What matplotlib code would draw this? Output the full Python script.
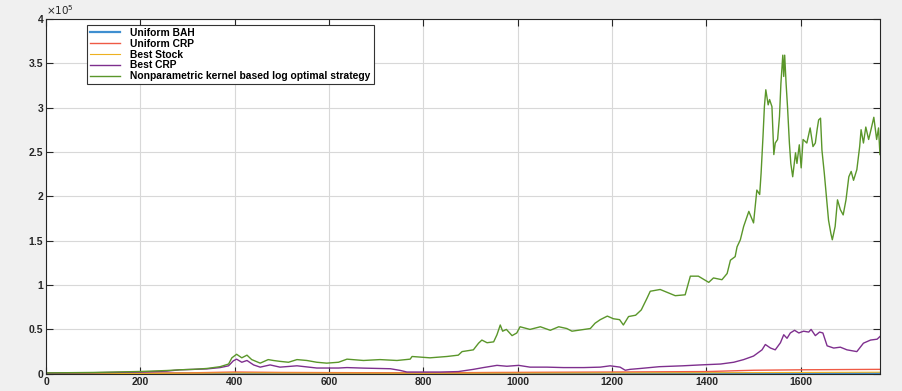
import matplotlib
matplotlib.use("Agg")
import matplotlib.pyplot as plt

# values are in units of 1e5
x_bah = [0, 200, 400, 600, 800, 1000, 1200, 1400, 1600, 1768]
uniform_bah = [0.001, 0.002, 0.003, 0.002, 0.002, 0.003, 0.003, 0.004, 0.005, 0.005]

x_ucrp = [0, 300, 400, 500, 800, 950, 1200, 1400, 1500, 1600, 1768]
uniform_crp = [0.004, 0.01, 0.02, 0.015, 0.01, 0.015, 0.02, 0.025, 0.04, 0.045, 0.05]

x_best = [0, 200, 400, 600, 800, 1000, 1200, 1400, 1600, 1768]
best_stock = [0.002, 0.004, 0.01, 0.008, 0.006, 0.008, 0.01, 0.012, 0.015, 0.018]

x_bcrp = [0, 100, 200, 256, 284, 341, 369, 387, 397, 404, 415, 426, 440, 454, 475,
          496, 532, 574, 620, 638, 673, 730, 751, 765, 800, 836, 874, 906, 927, 956,
          977, 1002, 1026, 1062, 1097, 1140, 1175, 1196, 1217, 1228, 1238, 1260, 1300,
          1350, 1387, 1430, 1458, 1479, 1500, 1518, 1525, 1536, 1546, 1557, 1564, 1571,
          1578, 1587, 1596, 1606, 1617, 1622, 1631, 1640, 1647, 1656, 1670, 1684, 1698,
          1719, 1733, 1748, 1762, 1768]
best_crp = [0.008, 0.012, 0.02, 0.03, 0.045, 0.055, 0.07, 0.09, 0.146, 0.165, 0.13, 0.15,
            0.10, 0.075, 0.10, 0.075, 0.09, 0.065, 0.065, 0.07, 0.064, 0.057, 0.038, 0.02,
            0.02, 0.02, 0.025, 0.05, 0.07, 0.095, 0.085, 0.095, 0.075, 0.075, 0.07, 0.07,
            0.075, 0.09, 0.075, 0.04, 0.05, 0.06, 0.08, 0.09, 0.10, 0.11, 0.13, 0.16, 0.20,
            0.27, 0.33, 0.29, 0.27, 0.35, 0.44, 0.40, 0.46, 0.49, 0.46, 0.48, 0.47, 0.50,
            0.43, 0.47, 0.46, 0.315, 0.29, 0.30, 0.27, 0.25, 0.345, 0.38, 0.39, 0.42]

x_kernel = [0, 50, 100, 150, 200, 256, 284, 312, 341, 369, 387, 394, 404, 415, 426, 436,
            454, 471, 482, 496, 514, 532, 553, 574, 595, 620, 638, 673, 708, 744, 772, 776,
            814, 850, 874, 882, 906, 917, 924, 935, 949, 956, 963, 968, 976, 988, 998, 1005,
            1026, 1048, 1069, 1087, 1104, 1115, 1140, 1154, 1164, 1175, 1190, 1203, 1216,
            1224, 1235, 1250, 1262, 1274, 1281, 1302, 1334, 1355, 1366, 1383, 1405, 1415,
            1433, 1444, 1451, 1461, 1465, 1472, 1479, 1490, 1500, 1507, 1513, 1516, 1520,
            1523, 1526, 1531, 1534, 1539, 1543, 1546, 1551, 1555, 1558, 1562, 1564, 1566,
            1569, 1572, 1576, 1579, 1583, 1589, 1592, 1597, 1601, 1605, 1613, 1620, 1626,
            1631, 1635, 1638, 1642, 1645, 1650, 1654, 1659, 1664, 1667, 1673, 1678, 1684,
            1690, 1696, 1702, 1707, 1712, 1719, 1725, 1728, 1733, 1738, 1744, 1749, 1755,
            1761, 1765, 1768]
kernel = [0.01, 0.012, 0.015, 0.02, 0.026, 0.037, 0.045, 0.05, 0.06, 0.08, 0.11, 0.18, 0.22,
          0.18, 0.21, 0.16, 0.12, 0.16, 0.15, 0.14, 0.13, 0.16, 0.15, 0.13, 0.12, 0.13, 0.165,
          0.15, 0.16, 0.15, 0.165, 0.195, 0.18, 0.195, 0.21, 0.25, 0.27, 0.345, 0.38, 0.35,
          0.36, 0.44, 0.55, 0.48, 0.50, 0.43, 0.46, 0.53, 0.50, 0.53, 0.49, 0.53, 0.51, 0.48,
          0.50, 0.51, 0.57, 0.61, 0.65, 0.62, 0.61, 0.55, 0.645, 0.66, 0.72, 0.85, 0.93, 0.95,
          0.88, 0.89, 1.10, 1.10, 1.03, 1.08, 1.06, 1.13, 1.28, 1.32, 1.43, 1.51, 1.66, 1.83,
          1.70, 2.07, 2.02, 2.26, 2.67, 3.01, 3.20, 3.03, 3.09, 3.01, 2.47, 2.60, 2.64, 2.90,
          3.27, 3.59, 3.35, 3.59, 3.27, 3.01, 2.60, 2.37, 2.22, 2.49, 2.37, 2.58, 2.32, 2.64,
          2.60, 2.77, 2.56, 2.60, 2.76, 2.86, 2.88, 2.52, 2.26, 2.02, 1.73, 1.58, 1.51, 1.66,
          1.96, 1.85, 1.79, 1.96, 2.22, 2.28, 2.18, 2.30, 2.56, 2.75, 2.60, 2.78, 2.64, 2.75,
          2.89, 2.64, 2.77, 2.47]

plt.rcParams['font.family'] = ['Liberation Sans', 'DejaVu Sans']

fig = plt.figure(figsize=(9.03, 3.91), dpi=100, facecolor='#f0f0f0')
ax = fig.add_axes([0.051, 0.044, 0.924, 0.908])
ax.set_facecolor('white')

ax.plot(x_bah, uniform_bah, color='#3f8fd0', lw=1.6, label='Uniform BAH')
ax.plot(x_ucrp, uniform_crp, color='#ef5a45', lw=1.0, label='Uniform CRP')
ax.plot(x_best, best_stock, color='#EDB120', lw=0.8, label='Best Stock')
ax.plot(x_bcrp, best_crp, color='#7E2F8E', lw=1.0, label='Best CRP')
ax.plot(x_kernel, kernel, color='#5a962a', lw=1.0,
        label='Nonparametric kernel based log optimal strategy')

ax.set_xlim(0, 1769)
ax.set_ylim(0, 4)
ax.set_xticks(range(0, 1601, 200))
ax.set_yticks([0, 0.5, 1, 1.5, 2, 2.5, 3, 3.5, 4])
ax.set_yticklabels(['0', '0.5', '1', '1.5', '2', '2.5', '3', '3.5', '4'])
ax.grid(True, color='#d8d8d8', lw=0.8)
ax.set_axisbelow(True)
ax.tick_params(direction='in', length=5, width=0.8, top=True, right=True,
               labelsize=7.5, colors='#262626', pad=2)
for lab in ax.get_xticklabels() + ax.get_yticklabels():
    lab.set_fontweight('bold')
for s in ax.spines.values():
    s.set_color('#262626')
    s.set_linewidth(0.8)

ax.text(0.0, 1.005, r'$\times10^{5}$', transform=ax.transAxes, fontsize=7.5,
        color='#262626', ha='left', va='bottom')

leg = ax.legend(loc='upper left', bbox_to_anchor=(0.049, 0.983), borderaxespad=0,
                prop={'size': 7.4, 'weight': 'bold'}, fancybox=False, framealpha=1,
                edgecolor='#333333', handlelength=2.9, labelspacing=0.08,
                borderpad=0.3, handletextpad=1.0)
leg.get_frame().set_linewidth(0.8)

fig.savefig('out.png', dpi=100, facecolor=fig.get_facecolor())
